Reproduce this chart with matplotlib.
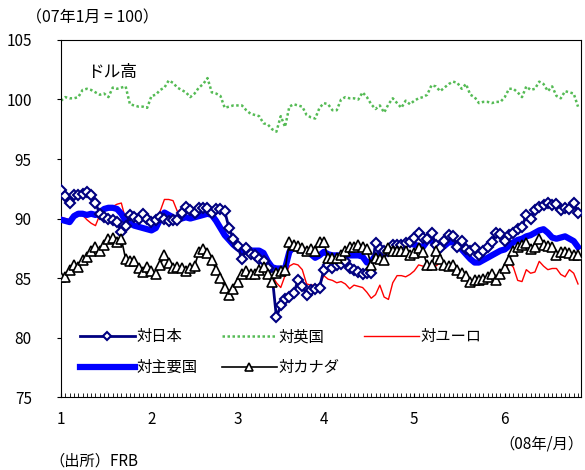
import matplotlib
matplotlib.use("Agg")
import matplotlib.pyplot as plt
import numpy as np

plt.rcParams['font.family'] = ['Noto Sans CJK JP', 'DejaVu Sans']

# daily index (07年1月 = 100), trading days Jan-Jun 2008
japan = [92.4, 91.9, 91.3, 92.0, 92.0, 92.1, 92.2, 92.0, 91.3, 90.4,
         90.1, 90.0, 89.9, 89.7, 88.9, 89.4, 90.3, 90.1, 90.0, 90.4,
         90.0, 89.7, 89.9, 90.1, 90.0, 89.8, 89.9, 89.9, 90.5, 91.0,
         90.7, 90.5, 90.9, 90.9, 90.9, 90.5, 90.8, 90.8, 90.6, 89.2,
         88.3, 87.7, 86.6, 87.5, 87.0, 86.9, 86.6, 86.4, 85.8, 85.2,
         81.7, 82.7, 83.2, 83.4, 83.7, 84.8, 84.3, 83.6, 84.0, 84.1,
         84.2, 85.7, 86.1, 85.8, 86.1, 86.2, 86.4, 85.8, 85.7, 85.5,
         85.3, 85.4, 85.4, 87.9, 87.4, 87.3, 87.3, 87.8, 87.8, 87.8,
         87.9, 88.0, 88.4, 88.8, 88.4, 88.3, 88.8, 87.8, 87.5, 88.1,
         88.6, 88.5, 87.6, 88.1, 87.4, 87.3, 87.5, 86.9, 87.3, 87.6,
         88.0, 88.8, 88.7, 88.1, 88.6, 88.8, 89.1, 89.3, 90.3, 90.0,
         90.7, 91.0, 91.1, 91.3, 91.1, 91.2, 90.7, 90.9, 90.8, 91.3,
         90.5]

uk = [99.9, 100.2, 100.1, 100.1, 100.2, 100.8, 100.9, 100.8, 100.6, 100.4,
      100.5, 100.2, 101.0, 100.9, 101.0, 101.1, 99.6, 99.5, 99.4, 99.4,
      99.3, 100.3, 100.4, 100.8, 101.0, 101.6, 101.4, 101.0, 100.8, 100.6,
      100.2, 100.5, 101.0, 101.3, 101.8, 100.6, 100.5, 100.3, 99.3, 99.4,
      99.5, 99.5, 99.5, 99.1, 98.8, 98.7, 98.6, 98.0, 97.9, 97.5,
      97.3, 98.6, 97.7, 99.4, 99.6, 99.5, 99.4, 98.7, 98.5, 98.4,
      99.3, 99.7, 99.6, 99.1, 99.1, 100.0, 100.2, 100.1, 100.1, 100.0,
      100.6, 100.2, 99.6, 99.2, 99.5, 98.9, 99.6, 100.1, 99.7, 99.3,
      99.9, 99.6, 99.9, 100.1, 100.2, 100.4, 101.2, 101.1, 100.7, 101.0,
      101.3, 101.5, 101.4, 100.9, 101.3, 100.4, 100.2, 99.7, 99.8, 99.8,
      99.7, 99.8, 99.8, 100.2, 100.9, 100.9, 100.6, 100.2, 101.1, 100.8,
      100.9, 101.5, 101.3, 100.7, 101.1, 100.3, 100.1, 100.7, 100.6, 100.5,
      99.4]

euro = [90.1, 90.0, 89.9, 90.4, 90.5, 90.3, 89.9, 89.6, 89.4, 90.3,
        90.8, 90.9, 91.0, 91.2, 91.3, 89.9, 89.6, 89.5, 89.3, 89.2,
        89.1, 89.1, 89.3, 90.6, 91.6, 91.6, 91.5, 90.6, 90.1, 90.0,
        90.0, 90.2, 90.3, 90.3, 90.4, 90.1, 89.6, 89.0, 88.5, 88.2,
        87.8, 87.6, 87.3, 87.0, 86.9, 86.8, 86.9, 86.8, 86.0, 85.2,
        84.6, 84.2, 85.2, 86.0, 86.2, 86.1, 85.7, 84.5, 84.4, 84.4,
        84.4, 85.2, 84.9, 84.8, 84.6, 84.7, 84.5, 84.1, 84.4, 84.3,
        84.2, 83.8, 83.3, 83.6, 84.4, 83.4, 83.2, 84.6, 85.2, 85.2,
        85.1, 85.3, 85.6, 86.1, 86.0, 85.7, 85.9, 86.0, 86.3, 85.9,
        85.8, 85.9, 85.5, 85.2, 85.0, 84.6, 84.4, 84.5, 84.6, 84.9,
        85.1, 85.0, 85.3, 85.6, 86.3, 85.9, 84.8, 84.7, 85.7, 85.4,
        85.5, 86.4, 86.0, 85.7, 85.8, 85.8, 85.3, 85.1, 85.7, 85.4,
        84.5]

major = [89.9, 89.8, 89.7, 90.2, 90.4, 90.4, 90.3, 90.4, 90.3, 90.5,
         90.8, 90.9, 90.9, 90.8, 90.4, 89.8, 89.6, 89.4, 89.3, 89.2,
         89.1, 89.0, 89.2, 89.9, 90.5, 90.3, 90.1, 90.0, 90.0, 90.1,
         90.0, 90.1, 90.2, 90.3, 90.4, 90.3, 89.8, 89.2, 88.6, 88.2,
         87.8, 87.5, 87.3, 87.2, 87.3, 87.3, 87.3, 87.1, 86.4, 85.9,
         85.8, 85.8, 85.8, 87.2, 87.6, 87.4, 87.3, 87.3, 87.0, 86.7,
         86.9, 87.2, 87.0, 86.9, 86.9, 86.9, 86.9, 86.9, 86.9, 86.9,
         86.8, 86.3, 86.4, 86.9, 86.9, 87.0, 87.3, 87.5, 87.7, 87.9,
         87.9, 87.9, 87.8, 87.7, 87.6, 88.1, 88.2, 87.6, 87.5, 87.7,
         88.0, 88.0, 87.8, 87.4, 87.0, 86.6, 86.3, 86.3, 86.5, 86.7,
         86.9, 87.1, 87.3, 87.4, 87.7, 88.0, 88.2, 88.3, 88.5, 88.6,
         88.8, 89.0, 89.1, 88.8, 88.4, 88.3, 88.4, 88.5, 88.3, 88.1,
         87.6]

canada = [85.1, 85.1, 85.7, 86.1, 85.9, 86.5, 86.8, 87.3, 87.6, 87.3,
          87.8, 88.3, 88.4, 88.0, 88.3, 86.6, 86.4, 86.4, 85.8, 85.5,
          85.9, 85.6, 85.3, 86.1, 86.9, 86.3, 85.8, 85.9, 85.8, 85.6,
          85.8, 86.0, 87.2, 87.4, 87.1, 86.5, 85.7, 85.0, 84.2, 83.6,
          84.1, 84.7, 85.3, 85.6, 85.3, 85.3, 85.7, 85.9, 85.3, 84.7,
          85.4, 85.6, 85.7, 88.0, 87.8, 87.7, 87.5, 87.3, 87.4, 87.3,
          88.0, 88.0, 86.7, 86.7, 86.7, 86.9, 87.3, 87.6, 87.6, 87.8,
          87.6, 87.4, 86.1, 86.7, 86.6, 86.5, 87.5, 87.3, 87.3, 87.3,
          87.3, 86.9, 87.1, 87.5, 87.2, 86.1, 86.1, 87.3, 86.6, 86.1,
          86.0, 86.1, 85.7, 85.4, 85.2, 84.7, 84.8, 84.8, 84.9, 85.1,
          85.3, 84.8, 85.3, 85.8, 86.5, 87.3, 87.6, 87.8, 87.9, 87.4,
          87.6, 88.3, 87.8, 87.7, 87.6, 86.9, 87.2, 87.2, 87.1, 86.9,
          86.9]

month_labels = ['1', '2', '3', '4', '5', '6']
month_start = [0, 21, 41, 61, 82, 103]   # first trading day of each month

x = np.arange(len(japan))

fig = plt.figure(figsize=(5.85, 4.70), dpi=100)
ax = fig.add_axes([0.1043, 0.1553, 0.8889, 0.7596])

ax.plot(x, uk, color='#55bb55', lw=1.8, ls=(0, (1, 1)), zorder=2, label='対英国')
ax.plot(x, euro, color='red', lw=1.0, zorder=3, label='対ユーロ')
ax.plot(x, major, color='#0000ff', lw=4.5, zorder=4, label='対主要国')
ax.plot(x, japan, color='#000080', lw=2, marker='D', ms=5, mfc='white',
        mec='#000080', mew=1.5, zorder=5, label='対日本')
ax.plot(x, canada, color='black', lw=1.2, marker='^', ms=7, mfc='white',
        mec='black', mew=1.2, zorder=6, label='対カナダ')

ax.set_xlim(0, 120.7)
ax.set_ylim(75, 105)
ax.set_yticks(np.arange(75, 106, 5))
ax.set_xticks(month_start)
ax.set_xticklabels(month_labels)
ax.set_xticks(x, minor=True)
ax.tick_params(axis='x', which='both', direction='in', length=3, pad=10, labelsize=11)
ax.tick_params(axis='y', direction='out', length=3, pad=18, labelsize=11)

handles, labels = ax.get_legend_handles_labels()
order = [3, 2, 0, 4, 1]
ax.legend([handles[i] for i in order], [labels[i] for i in order], ncol=3,
          loc='lower left', bbox_to_anchor=(0.01, 0.02), frameon=False,
          fontsize=11, handlelength=3.6, handletextpad=0.1, columnspacing=1.6,
          numpoints=1, labelspacing=0.9, markerscale=0.8)

ax.text(0.05, 0.91, 'ドル高', transform=ax.transAxes, fontsize=12, va='center')
fig.text(0.045, 0.962, '（07年1月 = 100）', fontsize=11.5, va='center')
fig.text(0.085, 0.0, '（出所）FRB', fontsize=11, va='bottom')
fig.text(0.998, 0.038, '（08年/月）', fontsize=11, va='bottom', ha='right')

fig.savefig('out.png', dpi=100)
